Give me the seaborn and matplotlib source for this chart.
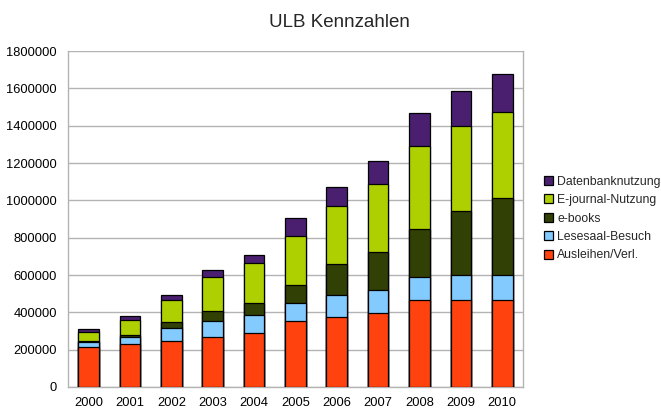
import numpy as np
import pandas as pd
import seaborn as sns
import matplotlib.pyplot as plt
from matplotlib.patches import Patch
from matplotlib.ticker import FixedLocator

# data
years = ["2000", "2001", "2002", "2003", "2004", "2005", "2006", "2007", "2008", "2009", "2010"]
ausleihen = [216000, 229000, 246000, 266000, 291000, 354000, 377000, 395000, 464000, 464000, 464000]
lesesaal = [27000, 37000, 68000, 86000, 93000, 96000, 116000, 123000, 124000, 136000, 136000]
ebooks = [5000, 11000, 33000, 57000, 68000, 95000, 164000, 205000, 260000, 343000, 411000]
ejournal = [48000, 82000, 117000, 182000, 211000, 266000, 314000, 366000, 445000, 457000, 464000]
datenbank = [15000, 20000, 31000, 34000, 44000, 94000, 100000, 120000, 177000, 188000, 200000]

series = ["Ausleihen/Verl.", "Lesesaal-Besuch", "e-books", "E-journal-Nutzung", "Datenbanknutzung"]
colors = ["#ff420e", "#83caff", "#314004", "#aecf00", "#4b1f6f"]

df = pd.DataFrame({"Jahr": years, series[0]: ausleihen, series[1]: lesesaal,
                   series[2]: ebooks, series[3]: ejournal, series[4]: datenbank})
cum = df[series].cumsum(axis=1)

sns.set_style("white")
plt.rcParams["font.family"] = ["Liberation Sans", "DejaVu Sans"]

fig = plt.figure(figsize=(6.61, 4.12), dpi=100)
ax = fig.add_axes([0.103, 0.0607, 0.688, 0.8153])

# stacked bars: draw the cumulative totals from the top layer down
for name, col in reversed(list(zip(series, colors))):
    sns.barplot(x=df["Jahr"], y=cum[name], color=col, saturation=1, width=0.5,
                edgecolor="black", linewidth=0.9, ax=ax, zorder=3)

ax.set_ylim(0, 1800000)
ax.set_xlim(-0.5, 10.5)
ax.set_yticks(np.arange(0, 1800001, 200000))
ax.set_yticklabels([str(v) for v in range(0, 1800001, 200000)])
ax.yaxis.grid(True, color="#b3b3b3", linewidth=1, zorder=0)
ax.xaxis.set_minor_locator(FixedLocator(np.arange(-0.5, 11, 1)))
ax.tick_params(axis="x", which="major", length=0, labelsize=9.3, pad=7, labelcolor="black")
ax.tick_params(axis="x", which="minor", length=5, color="#b3b3b3", width=1)
ax.tick_params(axis="y", length=5, color="#b3b3b3", width=1, labelsize=9.3, pad=3, labelcolor="black")
ax.set_xlabel("")
ax.set_ylabel("")
for s in ["left", "bottom", "right"]:
    ax.spines[s].set_color("#b3b3b3")
    ax.spines[s].set_linewidth(1)
ax.spines["top"].set_visible(False)

fig.text(0.513, 0.945, "ULB Kennzahlen", ha="center", va="center", fontsize=13.5)

handles = [Patch(facecolor=c, edgecolor="black", linewidth=0.9, label=n)
           for n, c in reversed(list(zip(series, colors)))]
fig.legend(handles=handles, loc="upper left", bbox_to_anchor=(0.815, 0.585),
           frameon=False, fontsize=8.8, handlelength=0.75, handleheight=0.75,
           handletextpad=0.35, labelspacing=0.52, borderaxespad=0)

fig.savefig("out.png", dpi=100)
